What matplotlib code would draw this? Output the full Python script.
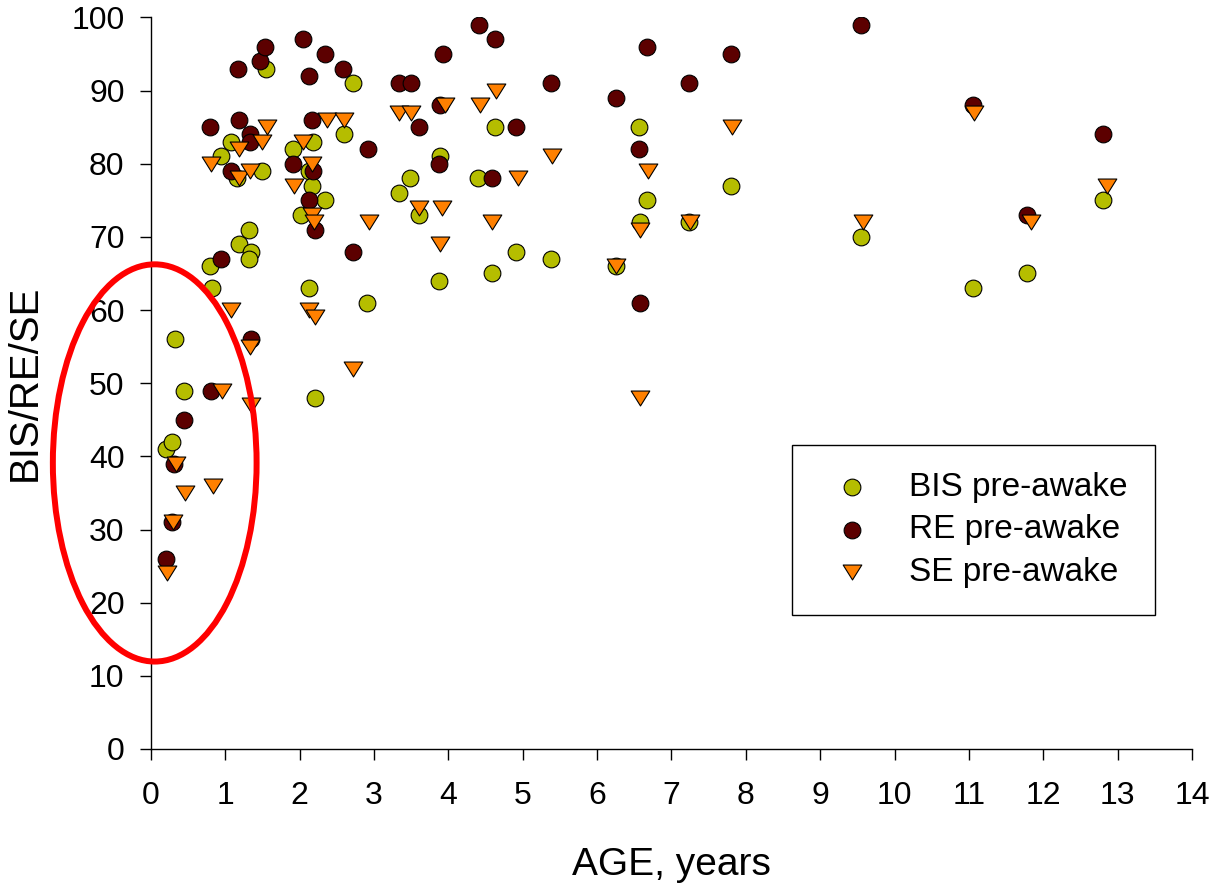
import matplotlib
matplotlib.use('Agg')
import matplotlib.pyplot as plt
from matplotlib.patches import Ellipse
from matplotlib.path import Path

plt.rcParams['font.family'] = ['Liberation Sans', 'DejaVu Sans']

# BIS / RE / SE pre-awake values against age (years)
bis_age = [0.20, 0.28, 0.32, 0.44, 0.80, 0.82, 0.94, 1.07, 1.15, 1.19, 1.32, 1.34, 1.32, 1.49, 1.54,
           1.91, 2.02, 2.12, 2.12, 2.16, 2.18, 2.20, 2.34, 2.59, 2.72, 2.91, 3.33, 3.48, 3.60, 3.87,
           3.89, 4.40, 4.58, 4.63, 4.91, 5.38, 6.25, 6.56, 6.57, 6.67, 7.23, 7.80, 9.55, 11.05, 11.78, 12.81]
bis_val = [41, 42, 56, 49, 66, 63, 81, 83, 78, 69, 71, 68, 67, 79, 93,
           82, 73, 63, 79, 77, 83, 48, 75, 84, 91, 61, 76, 78, 73, 64,
           81, 78, 65, 85, 68, 67, 66, 85, 72, 75, 72, 77, 70, 63, 65, 75]

re_age = [0.20, 0.28, 0.31, 0.44, 0.81, 1.34, 0.94, 0.80, 1.19, 1.33, 1.33, 1.07, 1.17, 1.47, 1.53,
          2.04, 2.34, 2.13, 2.58, 2.16, 1.91, 2.18, 2.12, 2.20, 2.72, 2.92, 3.33, 3.49, 3.60, 3.93,
          3.88, 3.87, 4.41, 4.63, 4.58, 4.91, 5.38, 6.25, 6.67, 6.56, 6.57, 7.23, 7.80, 9.55, 11.05,
          11.78, 12.81]
re_val = [26, 31, 39, 45, 49, 56, 67, 85, 86, 84, 83, 79, 93, 94, 96,
          97, 95, 92, 93, 86, 80, 79, 75, 71, 68, 82, 91, 91, 85, 95,
          88, 80, 99, 97, 78, 85, 91, 89, 96, 82, 61, 91, 95, 99, 88,
          73, 84]

se_age = [0.21, 0.29, 0.34, 0.46, 0.84, 0.96, 1.08, 1.33, 1.35, 0.81, 1.19, 1.19, 1.33, 1.49, 1.56,
          1.92, 2.04, 2.16, 2.17, 2.19, 2.13, 2.21, 2.37, 2.59, 2.72, 2.93, 3.34, 3.50, 3.61, 3.91,
          3.95, 3.89, 4.42, 4.64, 4.59, 4.93, 5.39, 6.26, 6.68, 6.57, 6.58, 7.25, 7.82, 9.57, 11.07,
          11.83, 12.86]
se_val = [24, 31, 39, 35, 36, 49, 60, 55, 47, 80, 82, 78, 79, 83, 85,
          77, 83, 80, 73, 72, 60, 59, 86, 86, 52, 72, 87, 87, 74, 74,
          88, 69, 88, 90, 72, 78, 81, 66, 79, 71, 48, 72, 85, 72, 87,
          72, 77]

tri = Path([(-1, 0.8), (1, 0.8), (0, -0.8), (-1, 0.8)], closed=True)

fig = plt.figure(figsize=(12.1, 8.85), dpi=100)
ax = fig.add_axes([0.1248, 0.1537, 0.8603, 0.8266])

ax.scatter(bis_age, bis_val, s=145, marker='o', c='#B5BD00', edgecolors='black',
           linewidths=0.8, label='BIS pre-awake', zorder=3)
ax.scatter(re_age, re_val, s=145, marker='o', c='#5C0000', edgecolors='black',
           linewidths=0.8, label='RE pre-awake', zorder=4)
ax.scatter(se_age, se_val, s=180, marker=tri, c='#FF8000', edgecolors='black',
           linewidths=0.8, label='SE pre-awake', zorder=5)

# red ring round the youngest children
ell = Ellipse((0.05, 39.1), 2.74, 54.3, fill=False, edgecolor='#FF0000', lw=4.3,
              clip_on=False, zorder=6)
ax.add_patch(ell)

ax.set_xlim(0, 14)
ax.set_ylim(0, 100)
ax.set_xticks(range(0, 15))
ax.set_yticks(range(0, 101, 10))
ax.spines['top'].set_visible(False)
ax.spines['right'].set_visible(False)
for sp in ['left', 'bottom']:
    ax.spines[sp].set_linewidth(1.0)
ax.tick_params(direction='out', length=8, width=1.0, labelsize=23)
ax.tick_params(axis='x', pad=15)
ax.tick_params(axis='y', pad=11)

ax.set_xlabel('AGE, years', fontsize=28, labelpad=26)
ax.set_ylabel('BIS/RE/SE', fontsize=29, labelpad=20)

leg = ax.legend(loc='upper left', bbox_to_anchor=(0.6158, 0.4156), borderaxespad=0,
                fontsize=24, frameon=True, fancybox=False, framealpha=1,
                borderpad=0.8, handlelength=2.0, handletextpad=0.72, labelspacing=0.35,
                scatterpoints=1)
leg.get_frame().set_edgecolor('black')
leg.get_frame().set_linewidth(1.0)

plt.savefig('out.png', dpi=100)
